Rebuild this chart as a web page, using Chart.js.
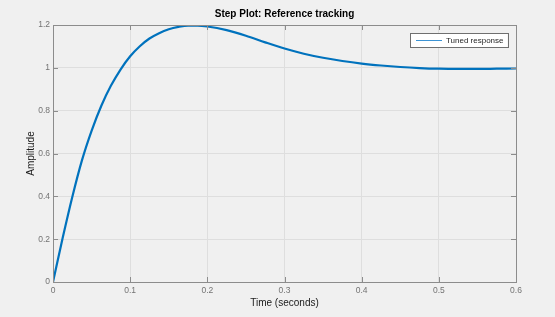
<!DOCTYPE html>
<html>
<head>
<meta charset="utf-8">
<script src="https://cdn.jsdelivr.net/npm/chart.js@4/dist/chart.umd.min.js"></script>
<style>
  html, body { margin: 0; padding: 0; background: #f0f0f0; }
  #c { display: block; }
</style>
</head>
<body>
<canvas id="c" width="555" height="317"></canvas>
<script>
const chartTitle = 'Step Plot: Reference tracking';
const xAxisLabel = 'Time (seconds)';
const yAxisLabel = 'Amplitude';
const seriesName = 'Tuned response';

const times = [0, 0.0125, 0.025, 0.0375, 0.05, 0.0625, 0.075, 0.0875, 0.1, 0.1125, 0.125, 0.1375,
  0.15, 0.1625, 0.175, 0.1875, 0.2, 0.225, 0.25, 0.275, 0.3, 0.325, 0.35, 0.375, 0.4, 0.425,
  0.45, 0.475, 0.5, 0.525, 0.55, 0.575, 0.6];
const amplitude = [0, 0.205, 0.397, 0.568, 0.706, 0.822, 0.916, 0.992, 1.054, 1.101, 1.137, 1.162,
  1.180, 1.191, 1.197, 1.197, 1.193, 1.176, 1.150, 1.119, 1.090, 1.066, 1.047, 1.032, 1.020, 1.011,
  1.004, 0.999, 0.996, 0.995, 0.995, 0.996, 0.997];

const xTicks = [0, 0.1, 0.2, 0.3, 0.4, 0.5, 0.6];
const yTicks = [0, 0.2, 0.4, 0.6, 0.8, 1, 1.2];

const FONT = "'Liberation Sans', Arial, Helvetica, sans-serif";
const AXIS_COLOR = '#8c8c8c';
const TICK_TEXT = '#737373';
const GRID_COLOR = '#dedede';
const LINE_COLOR = '#0072BD';

const framePlugin = {
  id: 'frame',
  afterDatasetsDraw(chart) {
    const {ctx, chartArea: a, scales} = chart;
    ctx.save();
    ctx.strokeStyle = AXIS_COLOR;
    ctx.lineWidth = 1;
    ctx.strokeRect(Math.round(a.left) + 0.5, Math.round(a.top) + 0.5,
      Math.round(a.right) - Math.round(a.left), Math.round(a.bottom) - Math.round(a.top));
    const tl = 5;
    ctx.beginPath();
    scales.x.ticks.forEach(t => {
      const px = Math.round(scales.x.getPixelForValue(t.value)) + 0.5;
      ctx.moveTo(px, a.bottom); ctx.lineTo(px, a.bottom - tl);
      ctx.moveTo(px, a.top); ctx.lineTo(px, a.top + tl);
    });
    scales.y.ticks.forEach(t => {
      const py = Math.round(scales.y.getPixelForValue(t.value)) + 0.5;
      ctx.moveTo(a.left, py); ctx.lineTo(a.left + tl, py);
      ctx.moveTo(a.right, py); ctx.lineTo(a.right - tl, py);
    });
    ctx.stroke();
    ctx.restore();
  },
  afterDraw(chart) {
    const {ctx, chartArea: a} = chart;
    ctx.save();
    ctx.fillStyle = '#000000';
    ctx.font = 'bold 10px ' + FONT;
    ctx.textAlign = 'center';
    ctx.textBaseline = 'middle';
    ctx.fillText(chartTitle, (a.left + a.right) / 2, 14);
    ctx.font = '8px ' + FONT;
    const label = chart.data.datasets[0].label;
    const tw = ctx.measureText(label).width;
    const padL = 6, lineLen = 26, gap = 4, padR = 4;
    const bw = padL + lineLen + gap + tw + padR;
    const bh = 14;
    const bx = Math.round(a.right - 8 - bw);
    const by = Math.round(a.top + 8);
    ctx.fillStyle = '#ffffff';
    ctx.fillRect(bx, by, bw, bh);
    ctx.strokeStyle = '#6f6f6f';
    ctx.lineWidth = 1;
    ctx.strokeRect(bx + 0.5, by + 0.5, Math.round(bw), bh);
    ctx.strokeStyle = '#3c93d4';
    ctx.lineWidth = 1;
    ctx.beginPath();
    ctx.moveTo(bx + padL, by + 7.5);
    ctx.lineTo(bx + padL + lineLen, by + 7.5);
    ctx.stroke();
    ctx.fillStyle = '#262626';
    ctx.textAlign = 'left';
    ctx.textBaseline = 'middle';
    ctx.fillText(label, bx + padL + lineLen + gap, by + 7.5);
    ctx.restore();
  }
};

new Chart(document.getElementById('c'), {
  type: 'line',
  data: {
    datasets: [{
      label: seriesName,
      data: times.map((t, i) => ({x: t, y: amplitude[i]})),
      borderColor: LINE_COLOR,
      borderWidth: 2.2,
      pointRadius: 0,
      fill: false,
      cubicInterpolationMode: 'monotone'
    }]
  },
  options: {
    responsive: false,
    animation: false,
    devicePixelRatio: 1,
    layout: { padding: { left: 0, right: 39, top: 25, bottom: 0 } },
    plugins: { legend: { display: false }, title: { display: false }, tooltip: { enabled: false } },
    scales: {
      x: {
        type: 'linear',
        min: 0, max: 0.6,
        afterBuildTicks: s => { s.ticks = xTicks.map(v => ({value: v})); },
        afterFit: s => { s.height = 35; },
        grid: { color: GRID_COLOR, drawTicks: false },
        border: { color: AXIS_COLOR },
        ticks: {
          color: TICK_TEXT, padding: 4, maxRotation: 0,
          font: { family: FONT, size: 8.5 },
          callback: v => String(v)
        },
        title: {
          display: true, text: xAxisLabel, color: '#1a1a1a',
          font: { family: FONT, size: 10 },
          padding: { top: 0, bottom: 8 }
        }
      },
      y: {
        type: 'linear',
        min: 0, max: 1.2,
        afterBuildTicks: s => { s.ticks = yTicks.map(v => ({value: v})); },
        afterFit: s => { s.width = 53; },
        grid: { color: GRID_COLOR, drawTicks: false },
        border: { color: AXIS_COLOR },
        ticks: {
          color: TICK_TEXT, padding: 3,
          font: { family: FONT, size: 8.5 },
          callback: v => String(v)
        },
        title: {
          display: true, text: yAxisLabel, color: '#1a1a1a',
          font: { family: FONT, size: 10 },
          padding: { top: 25, bottom: 0 }
        }
      }
    }
  },
  plugins: [framePlugin]
});
</script>
</body>
</html>
